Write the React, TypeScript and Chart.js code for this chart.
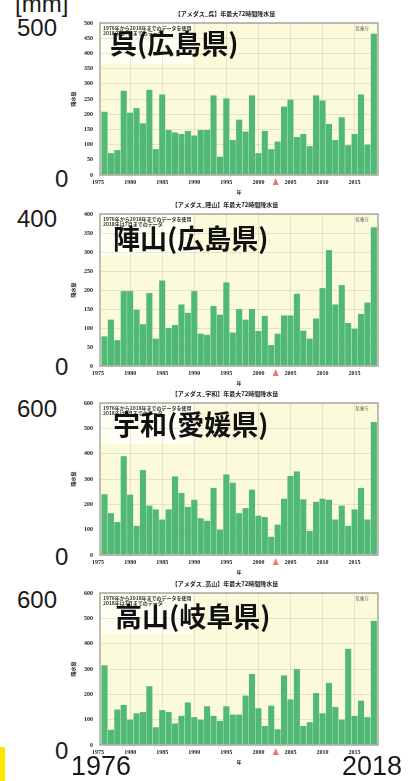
import React, { useEffect, useRef } from 'react';
import { Chart, registerables } from 'chart.js';

Chart.register(...registerables);

// ---------------- data ----------------
const YEARS = [
  1976, 1977, 1978, 1979, 1980, 1981, 1982, 1983, 1984, 1985,
  1986, 1987, 1988, 1989, 1990, 1991, 1992, 1993, 1994, 1995,
  1996, 1997, 1998, 1999, 2000, 2001, 2002, 2003, 2004, 2005,
  2006, 2007, 2008, 2009, 2010, 2011, 2012, 2013, 2014, 2015,
  2016, 2017, 2018,
];

const KURE = [
  208, 72, 82, 277, 205, 220, 170, 280, 85, 265,
  148, 140, 135, 145, 130, 148, 148, 262, 60, 252,
  115, 182, 143, 262, 72, 145, 85, 110, 225, 248,
  125, 135, 95, 262, 245, 168, 115, 190, 98, 135,
  265, 100, 465,
];

const JINYAMA = [
  78, 122, 68, 197, 197, 148, 110, 192, 72, 225,
  100, 108, 162, 140, 197, 85, 82, 158, 135, 220,
  88, 150, 122, 150, 92, 132, 55, 85, 133, 133,
  190, 93, 72, 125, 205, 305, 162, 213, 113, 98,
  137, 167, 365,
];

const UWA = [
  240, 165, 130, 390, 238, 115, 335, 195, 180, 140,
  180, 310, 245, 190, 218, 145, 135, 265, 100, 318,
  285, 165, 185, 258, 155, 150, 72, 120, 222, 312,
  330, 220, 95, 210, 222, 218, 140, 195, 115, 180,
  265, 140, 525,
];

const TAKAYAMA = [
  315, 60, 140, 158, 100, 125, 130, 232, 70, 138,
  130, 85, 115, 168, 110, 100, 153, 115, 95, 153,
  120, 120, 195, 280, 145, 75, 155, 62, 275, 180,
  300, 75, 90, 205, 125, 245, 150, 100, 380, 115,
  175, 110, 490,
];

const STATION_NAMES = ['呉(広島県)', '陣山(広島県)', '宇和(愛媛県)', '高山(岐阜県)'];
const CHART_TITLES = [
  '【アメダス_呉】年最大72時間降水量',
  '【アメダス_陣山】年最大72時間降水量',
  '【アメダス_宇和】年最大72時間降水量',
  '【アメダス_高山】年最大72時間降水量',
];
const Y_MAXES = [500, 400, 600, 600];
const Y_STEPS = [50, 50, 100, 100];
const BIG_MAX_LABELS = ['500', '400', '600', '600'];
const BIG_ZERO_LABEL = '0';
const X_TICK_YEARS = [1975, 1980, 1985, 1990, 1995, 2000, 2005, 2010, 2015];
const X_MIN = 1975.3;
const X_MAX = 2018.65;
const MARKER_YEAR = 2002.7;
const NOTE_LINES = ['1976年から2018年までのデータを使用', '2018年は7月までのデータ'];
const SOURCE_LABEL = '気象庁';
const UNIT_LABEL = '[mm]';
const Y_AXIS_TITLE = '降水量';
const X_AXIS_TITLE = '年';
const FIRST_YEAR_LABEL = '1976';
const LAST_YEAR_LABEL = '2018';

const SERIES = [KURE, JINYAMA, UWA, TAKAYAMA];

// ---------------- layout / style ----------------
const PLOT_TOPS = [23, 214, 403, 593];
const PLOT_H = 152;
const PAD_TOP = 18;
const PAD_RIGHT = 8;
const Y_AXIS_W = 30;
const X_AXIS_H = 20;
const CANVAS_LEFT = 70;
const CANVAS_W = 316;
const CANVAS_H = PLOT_H + PAD_TOP + X_AXIS_H;

const BAR_COLOR = '#50b978';
const PLOT_BG = '#fbfbdb';
const GRID = 'rgba(0,0,0,0.09)';
const TICK_FONT = { family: '"Liberation Serif", serif', size: 6, weight: 'bold' as const };

function makeDecor(idx: number) {
  return {
    id: 'decor' + idx,
    beforeDraw(chart: any) {
      const { ctx, chartArea: a } = chart;
      ctx.save();
      ctx.fillStyle = PLOT_BG;
      ctx.fillRect(a.left, a.top, a.right - a.left, a.bottom - a.top);
      ctx.fillStyle = 'rgba(255,255,248,0.85)';
      ctx.fillRect(a.left + 1, a.top + 1, 92, 40);
      ctx.restore();
    },
    afterDraw(chart: any) {
      const { ctx, chartArea: a } = chart;
      const xs = chart.scales.x;
      ctx.save();
      // frame
      ctx.strokeStyle = '#a9a9a0';
      ctx.lineWidth = 1.5;
      ctx.strokeRect(a.left, a.top, a.right - a.left, a.bottom - a.top);
      // title
      ctx.fillStyle = '#222';
      ctx.font = 'bold 6px "Noto Sans CJK JP", sans-serif';
      ctx.textAlign = 'center';
      ctx.textBaseline = 'middle';
      ctx.fillText(CHART_TITLES[idx], a.left + (a.right - a.left) * 0.45, a.top - 9);
      // notes
      ctx.textAlign = 'left';
      ctx.font = 'bold 5px "Noto Sans CJK JP", sans-serif';
      ctx.fillStyle = '#333';
      ctx.fillText(NOTE_LINES[0], a.left + 3, a.top + 5);
      ctx.fillText(NOTE_LINES[1], a.left + 3, a.top + 10);
      // source
      ctx.textAlign = 'right';
      ctx.font = '4.5px "Noto Sans CJK JP", sans-serif';
      ctx.fillStyle = '#555';
      ctx.fillText(SOURCE_LABEL, a.right - 9, a.top + 5);
      // marker triangle
      const mx = xs.getPixelForValue(MARKER_YEAR);
      ctx.fillStyle = '#f07474';
      ctx.beginPath();
      ctx.moveTo(mx, a.bottom + 3);
      ctx.lineTo(mx - 3, a.bottom + 10);
      ctx.lineTo(mx + 3, a.bottom + 10);
      ctx.closePath();
      ctx.fill();
      ctx.restore();
    },
  };
}

function StationChart({ idx }: { idx: number }) {
  const ref = useRef<HTMLCanvasElement>(null);
  useEffect(() => {
    const canvas = ref.current!;
    const values = SERIES[idx];
    const chart = new Chart(canvas, {
      type: 'bar',
      data: {
        datasets: [
          {
            data: YEARS.map((y, i) => ({ x: y, y: values[i] })),
            backgroundColor: BAR_COLOR,
            borderWidth: 0,
            barPercentage: 0.95,
            categoryPercentage: 1,
          } as any,
        ],
      },
      options: {
        responsive: false,
        animation: false,
        devicePixelRatio: 1,
        layout: { padding: { top: PAD_TOP, right: PAD_RIGHT, left: 0, bottom: 0 } },
        plugins: {
          legend: { display: false },
          tooltip: { enabled: false },
          title: { display: false },
        },
        scales: {
          x: {
            type: 'linear',
            min: X_MIN,
            max: X_MAX,
            offset: false,
            afterBuildTicks: (s: any) => {
              s.ticks = X_TICK_YEARS.map((v) => ({ value: v }));
            },
            afterFit: (s: any) => {
              s.height = X_AXIS_H;
            },
            ticks: {
              autoSkip: false,
              maxRotation: 0,
              padding: 4,
              color: '#222',
              font: TICK_FONT,
              callback: (v: any) => String(v),
            },
            grid: {
              color: (c: any) => (c.tick && c.tick.value < X_MIN ? 'rgba(0,0,0,0)' : GRID),
              drawTicks: false,
              offset: false,
            },
            border: { display: false },
            title: {
              display: true,
              text: X_AXIS_TITLE,
              color: '#222',
              font: { family: '"Noto Sans CJK JP", sans-serif', size: 5, weight: 'bold' },
              padding: 0,
            },
          } as any,
          y: {
            min: 0,
            max: Y_MAXES[idx],
            afterFit: (s: any) => {
              s.width = Y_AXIS_W;
            },
            ticks: {
              stepSize: Y_STEPS[idx],
              padding: 7,
              color: '#222',
              font: TICK_FONT,
            },
            grid: { color: GRID, drawTicks: false },
            border: { display: false },
            title: {
              display: true,
              text: Y_AXIS_TITLE,
              color: '#222',
              font: { family: '"Noto Sans CJK JP", sans-serif', size: 5, weight: 'bold' },
              padding: 0,
            },
          } as any,
        },
      },
      plugins: [makeDecor(idx)],
    });
    return () => chart.destroy();
  }, [idx]);
  return (
    <canvas
      ref={ref}
      width={CANVAS_W}
      height={CANVAS_H}
      style={{
        position: 'absolute',
        left: CANVAS_LEFT,
        top: PLOT_TOPS[idx] - PAD_TOP,
        width: CANVAS_W,
        height: CANVAS_H,
      }}
    />
  );
}

const numStyle: React.CSSProperties = {
  position: 'absolute',
  fontFamily: '"Liberation Sans", Arial, sans-serif',
  fontSize: 24,
  lineHeight: 1,
  color: '#1a1a1a',
  whiteSpace: 'nowrap',
};

const jpStyle: React.CSSProperties = {
  position: 'absolute',
  fontFamily: '"Noto Sans CJK JP", sans-serif',
  fontWeight: 700,
  fontSize: 27,
  lineHeight: 1,
  color: '#111',
  whiteSpace: 'nowrap',
};

const MAX_LABEL_TOPS = [16, 207, 397, 588];
const ZERO_LABEL_TOPS = [167, 355, 545, 739];
const NAME_LEFTS = [110, 113, 113, 115];
const NAME_TOPS = [29, 224, 410, 602];

export default function App() {
  return (
    <div
      style={{
        position: 'fixed',
        left: 0,
        top: 0,
        width: 412,
        height: 781,
        background: '#fff',
        overflow: 'hidden',
      }}
    >
      {SERIES.map((_, i) => (
        <StationChart key={i} idx={i} />
      ))}
      <div style={{ ...numStyle, left: 15, top: -8 }}>{UNIT_LABEL}</div>
      {BIG_MAX_LABELS.map((t, i) => (
        <div key={'m' + i} style={{ ...numStyle, left: 17, top: MAX_LABEL_TOPS[i] }}>
          {t}
        </div>
      ))}
      {ZERO_LABEL_TOPS.map((tp, i) => (
        <div key={'z' + i} style={{ ...numStyle, left: 55, top: tp }}>
          {BIG_ZERO_LABEL}
        </div>
      ))}
      {STATION_NAMES.map((n, i) => (
        <div key={'n' + i} style={{ ...jpStyle, left: NAME_LEFTS[i], top: NAME_TOPS[i] }}>
          {n}
        </div>
      ))}
      <div style={{ ...numStyle, fontSize: 27, left: 71, top: 753 }}>{FIRST_YEAR_LABEL}</div>
      <div style={{ ...numStyle, fontSize: 27, left: 342, top: 753 }}>{LAST_YEAR_LABEL}</div>
      <div
        style={{
          position: 'absolute',
          left: 0,
          top: 747,
          width: 5,
          height: 34,
          background: '#ffe600',
        }}
      />
    </div>
  );
}
